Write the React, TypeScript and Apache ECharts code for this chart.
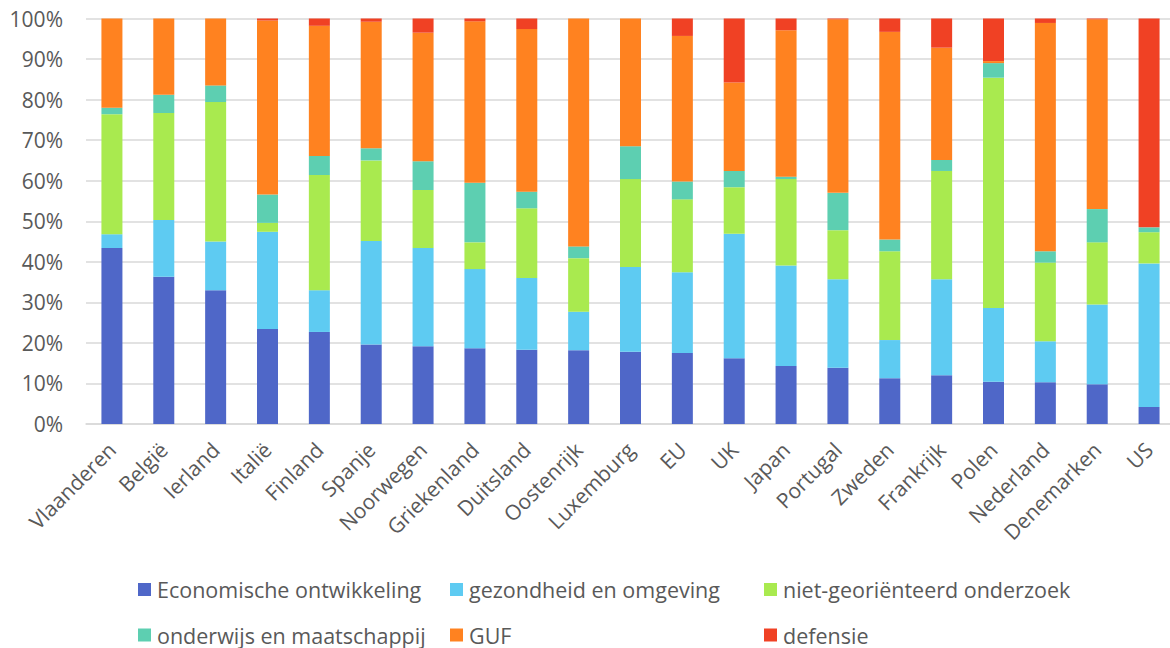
import React, { useEffect, useRef } from "react";
import * as echarts from "echarts";

const categories = [
  "Vlaanderen", "België", "Ierland", "Italië", "Finland", "Spanje", "Noorwegen",
  "Griekenland", "Duitsland", "Oostenrijk", "Luxemburg", "EU", "UK", "Japan",
  "Portugal", "Zweden", "Frankrijk", "Polen", "Nederland", "Denemarken", "US",
];

const economische = [43.4, 36.3, 33.0, 23.4, 22.7, 19.6, 19.2, 18.7, 18.3, 18.2, 17.8, 17.5, 16.2, 14.3, 13.9, 11.3, 12.0, 10.4, 10.3, 9.8, 4.2];
const gezondheid = [3.4, 14.0, 12.0, 24.0, 10.3, 25.5, 24.2, 19.5, 17.7, 9.5, 20.9, 19.9, 30.7, 24.8, 21.8, 9.4, 23.7, 18.2, 10.1, 19.7, 35.4];
const nietGeorienteerd = [29.6, 26.4, 34.4, 2.2, 28.4, 19.9, 14.3, 6.6, 17.2, 13.2, 21.7, 18.0, 11.5, 21.3, 12.1, 21.9, 26.7, 56.8, 19.4, 15.3, 7.7];
const onderwijs = [1.6, 4.5, 4.1, 7.0, 4.7, 3.0, 7.1, 14.7, 4.1, 2.9, 8.1, 4.4, 4.0, 0.6, 9.2, 2.9, 2.7, 3.6, 2.8, 8.2, 1.2];
const guf = [22.0, 18.8, 16.5, 42.9, 32.1, 31.2, 31.7, 39.8, 40.1, 56.2, 31.5, 35.9, 21.8, 36.1, 42.8, 51.2, 27.7, 0.5, 56.3, 46.8, 0.0];
const defensie = [0.0, 0.0, 0.0, 0.5, 1.8, 0.8, 3.5, 0.7, 2.6, 0.0, 0.0, 4.3, 15.8, 2.9, 0.2, 3.3, 7.2, 10.5, 1.1, 0.2, 51.5];

const seriesNames = [
  "Economische ontwikkeling",
  "gezondheid en omgeving",
  "niet-georiënteerd onderzoek",
  "onderwijs en maatschappij",
  "GUF",
  "defensie",
];
const seriesData = [economische, gezondheid, nietGeorienteerd, onderwijs, guf, defensie];
const colors = ["#4F67C8", "#5ECBF2", "#A9EA4F", "#5DCFB1", "#FF8220", "#F04124"];
const yTicks = [0, 10, 20, 30, 40, 50, 60, 70, 80, 90, 100];

const FONT = "'Open Sans', sans-serif";
const TEXT = "#595959";

export default function App() {
  const ref = useRef<HTMLDivElement>(null);
  useEffect(() => {
    if (!ref.current) return;
    const chart = echarts.init(ref.current, undefined, { renderer: "svg" });
    const legendPos = [
      { left: 138, top: 578.5 },
      { left: 450, top: 578.5 },
      { left: 764, top: 578.5 },
      { left: 138, top: 624 },
      { left: 450, top: 624 },
      { left: 764, top: 624 },
    ];
    chart.setOption({
      animation: false,
      color: colors,
      textStyle: { fontFamily: FONT },
      grid: {
        left: 86,
        right: -5,
        top: 18.5,
        bottom: 224,
        containLabel: false,
        outerBoundsMode: "none",
      },
      legend: seriesNames.map((n, i) => ({
        data: [n],
        left: legendPos[i].left,
        top: legendPos[i].top,
        padding: 0,
        itemWidth: 13,
        itemHeight: 13,
        icon: "rect",
        itemGap: 0,
        selectedMode: false,
        textStyle: {
          fontFamily: FONT,
          fontSize: 21.5,
          color: TEXT,
          lineHeight: 22,
          padding: [0, 0, 0, 1],
        },
      })),
      xAxis: {
        type: "category",
        data: categories,
        axisLine: { lineStyle: { color: "#D9D9D9", width: 1.5 } },
        axisTick: { show: false },
        axisLabel: {
          rotate: 45,
          interval: 0,
          margin: 22,
          fontSize: 21,
          color: TEXT,
          fontFamily: FONT,
        },
      },
      yAxis: {
        type: "value",
        min: yTicks[0],
        max: yTicks[yTicks.length - 1],
        interval: 10,
        axisLine: { show: false },
        axisTick: { show: false },
        splitLine: { lineStyle: { color: "#D9D9D9", width: 1.5 } },
        axisLabel: {
          formatter: "{value}%",
          fontSize: 21,
          color: TEXT,
          margin: 23,
          fontFamily: FONT,
        },
      },
      series: seriesNames.map((n, i) => ({
        name: n,
        type: "bar",
        stack: "total",
        barWidth: 21,
        data: seriesData[i],
        itemStyle: { color: colors[i] },
      })),
    });
    return () => chart.dispose();
  }, []);
  return (
    <div
      ref={ref}
      style={{ position: "absolute", left: 0, top: 0, width: 1170, height: 648 }}
    />
  );
}
